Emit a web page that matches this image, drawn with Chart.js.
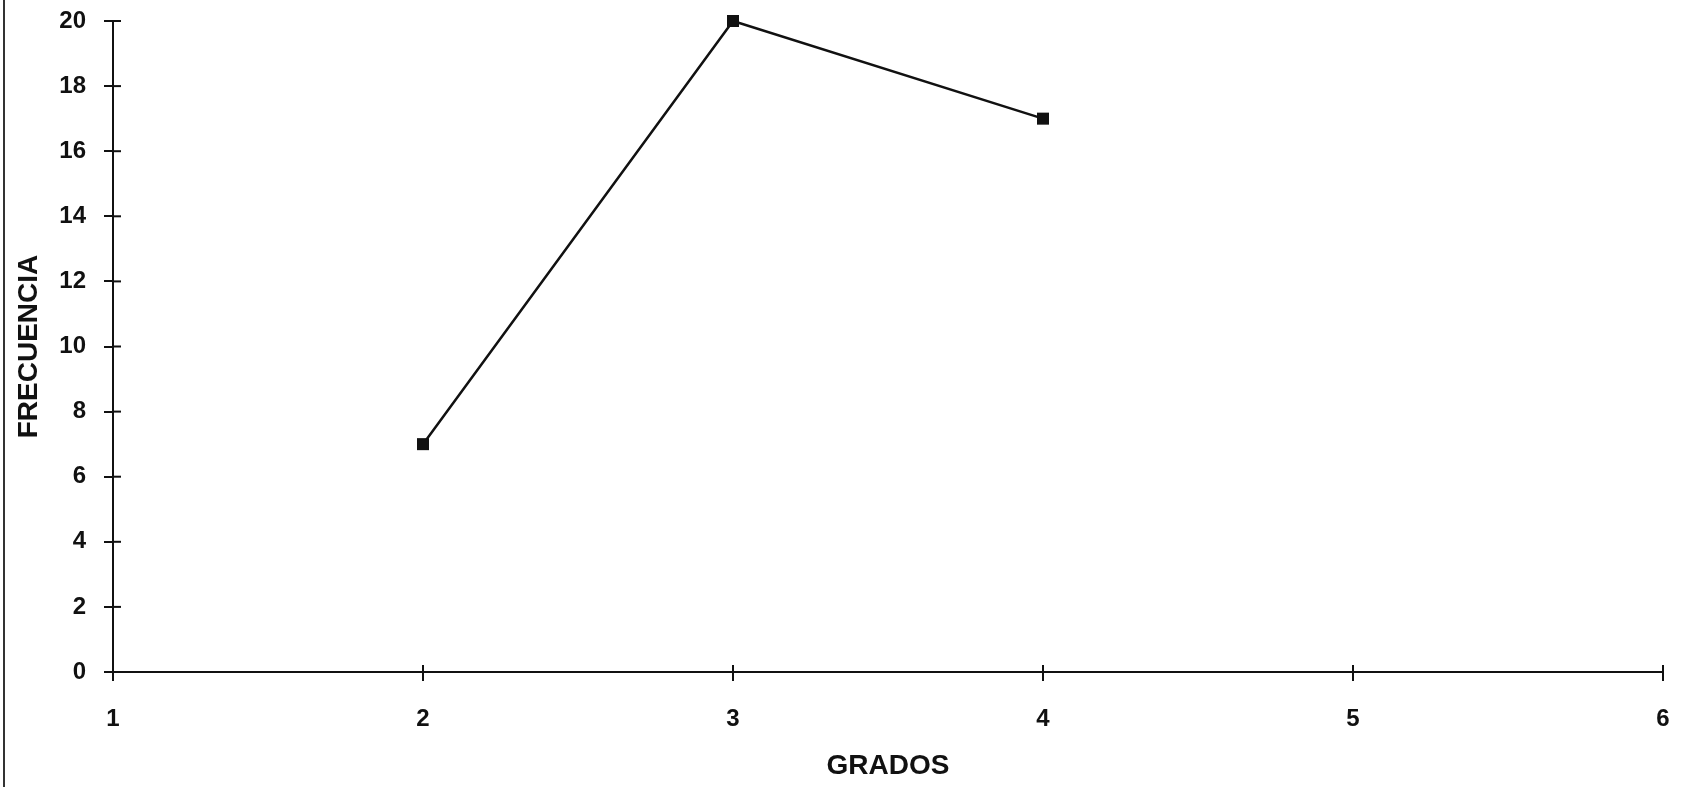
<!DOCTYPE html>
<html>
<head>
<meta charset="utf-8">
<script src="https://cdn.jsdelivr.net/npm/chart.js@4/dist/chart.umd.min.js"></script>
<style>
  html, body { margin: 0; padding: 0; background: #fff; }
  #wrap { position: relative; width: 1686px; height: 787px; }
  #frame { position: absolute; left: 3px; top: 0; width: 2px; height: 787px; background: #333; }
  #chart { position: absolute; left: 0; top: 0; }
</style>
</head>
<body>
<div id="wrap">
  <div id="frame"></div>
  <canvas id="chart" width="1686" height="787"></canvas>
</div>
<script>
// data
const grados = [2, 3, 4];
const frecuencia = [7, 20, 17];
const xTicks = [1, 2, 3, 4, 5, 6];
const yTicks = [0, 2, 4, 6, 8, 10, 12, 14, 16, 18, 20];

const FONT = "'Liberation Sans', Arial, sans-serif";

// ticks that cross the axis: draw the inner half too
const innerTicks = {
  id: "innerTicks",
  afterDraw(chart) {
    const ctx = chart.ctx;
    const area = chart.chartArea;
    const xs = chart.scales.x, ys = chart.scales.y;
    ctx.save();
    ctx.strokeStyle = "#111";
    ctx.lineWidth = 2;
    ys.ticks.forEach(t => {
      const py = ys.getPixelForValue(t.value);
      ctx.beginPath();
      ctx.moveTo(area.left, py);
      ctx.lineTo(area.left + 8, py);
      ctx.stroke();
    });
    xs.ticks.forEach(t => {
      const px = xs.getPixelForValue(t.value);
      ctx.beginPath();
      ctx.moveTo(px, area.bottom);
      ctx.lineTo(px, area.bottom - 7);
      ctx.stroke();
    });
    ctx.restore();
  }
};

new Chart(document.getElementById("chart"), {
  type: "line",
  data: {
    datasets: [{
      data: grados.map((g, i) => ({ x: g, y: frecuencia[i] })),
      borderColor: "#111",
      backgroundColor: "#111",
      borderWidth: 2.5,
      pointStyle: "rect",
      pointRadius: 8.5,
      pointBorderWidth: 0,
      tension: 0,
      clip: false
    }]
  },
  options: {
    responsive: false,
    animation: false,
    layout: { padding: { left: 0, top: 21, right: 23, bottom: 0 } },
    plugins: { legend: { display: false }, tooltip: { enabled: false } },
    scales: {
      x: {
        type: "linear",
        min: xTicks[0],
        max: xTicks[xTicks.length - 1],
        afterBuildTicks: s => { s.ticks = xTicks.map(v => ({ value: v })); },
        afterFit: s => { s.height = 115; s.paddingLeft = 0; s.paddingRight = 0; },
        grid: { drawOnChartArea: false, color: "#111", lineWidth: 2, tickLength: 9 },
        border: { color: "#111", width: 2 },
        ticks: { color: "#111", padding: 24, maxRotation: 0, font: { family: FONT, size: 24, weight: "bold" } },
        title: { display: true, text: "GRADOS", color: "#111", padding: { top: 0, bottom: 4 }, font: { family: FONT, size: 28, weight: "bold" } }
      },
      y: {
        min: yTicks[0],
        max: yTicks[yTicks.length - 1],
        afterBuildTicks: s => { s.ticks = yTicks.map(v => ({ value: v })); },
        afterFit: s => { s.width = 113; s.paddingTop = 0; s.paddingBottom = 0; },
        grid: { drawOnChartArea: false, color: "#111", lineWidth: 2, tickLength: 9 },
        border: { color: "#111", width: 2 },
        ticks: { color: "#111", padding: 18, font: { family: FONT, size: 24, weight: "bold" } },
        title: { display: true, text: "FRECUENCIA", color: "#111", padding: { top: 12, bottom: 0 }, font: { family: FONT, size: 28, weight: "bold" } }
      }
    }
  },
  plugins: [innerTicks]
});
</script>
</body>
</html>
